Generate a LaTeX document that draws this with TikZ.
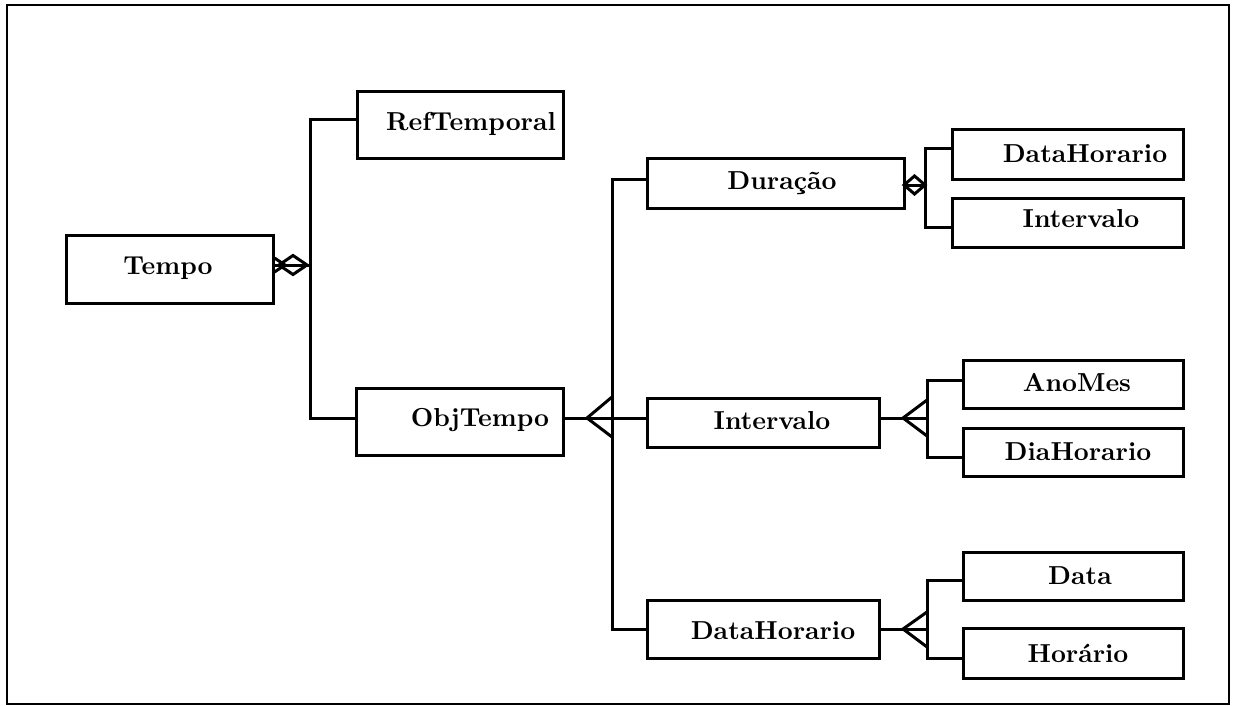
\documentclass[tikz,border=0pt]{standalone}
\begin{document}
\begin{tikzpicture}[x=0.4pt,y=-0.4pt,
  ent/.style={draw,line width=1.2pt,inner sep=0pt},
  lbl/.style={font=\bfseries\fontsize{10.4}{12}\selectfont,inner sep=0pt},
  con/.style={line width=1.2pt,line join=miter}]
\useasboundingbox (0,0) rectangle (1239,706);
\draw[line width=1pt] (7,5) rectangle (1229,704);
% boxes
\node[ent,minimum width=207*0.4pt,minimum height=68*0.4pt] (tempo) at (169.5,269) {};
\node[ent,minimum width=206*0.4pt,minimum height=67*0.4pt] (ref) at (460,125.5) {};
\node[ent,minimum width=207*0.4pt,minimum height=67*0.4pt] (obj) at (459.5,421.5) {};
\node[ent,minimum width=257*0.4pt,minimum height=49*0.4pt] (dur) at (775.5,183.5) {};
\node[ent,minimum width=231*0.4pt,minimum height=49*0.4pt] (dh1) at (1067.5,154.5) {};
\node[ent,minimum width=231*0.4pt,minimum height=49*0.4pt] (int1) at (1067.5,222.5) {};
\node[ent,minimum width=232*0.4pt,minimum height=49*0.4pt] (int2) at (763,422.5) {};
\node[ent,minimum width=220*0.4pt,minimum height=48*0.4pt] (ano) at (1073,384) {};
\node[ent,minimum width=220*0.4pt,minimum height=48*0.4pt] (dia) at (1073,452) {};
\node[ent,minimum width=232*0.4pt,minimum height=58*0.4pt] (dh2) at (763,629) {};
\node[ent,minimum width=220*0.4pt,minimum height=48*0.4pt] (data) at (1073,576) {};
\node[ent,minimum width=220*0.4pt,minimum height=50*0.4pt] (hor) at (1073,653) {};
% labels
\node[lbl] (tempoL) at (168,268) {Tempo};
\node[lbl] (refL) at (471,124) {RefTemporal};
\node[lbl] (objL) at (480,420) {ObjTempo};
\node[lbl] (durL) at (782,183) {Duração};
\node[lbl] (dh1L) at (1085,154) {DataHorario};
\node[lbl] (int1L) at (1081,219) {Intervalo};
\node[lbl] (int2L) at (772,421) {Intervalo};
\node[lbl] (anoL) at (1077,383) {AnoMes};
\node[lbl] (diaL) at (1078,452) {DiaHorario};
\node[lbl] (dh2L) at (773,631) {DataHorario};
\node[lbl] (dataL) at (1080,576) {Data};
\node[lbl] (horL) at (1078,653) {Horário};
% junction coordinates
\coordinate (a1) at (310,120);
\coordinate (a2) at (310,418);
\coordinate (a0) at (310,265);
\coordinate (b1) at (612,179);
\coordinate (b2) at (612,418);
\coordinate (b3) at (612,629);
\coordinate (c1) at (925,149);
\coordinate (c2) at (925,227);
\coordinate (c0) at (925,185);
\coordinate (d1) at (927,380);
\coordinate (d2) at (927,457);
\coordinate (d0) at (927,418);
\coordinate (e1) at (927,580);
\coordinate (e2) at (927,658);
\coordinate (e0) at (927,629);
% Tempo -> RefTemporal / ObjTempo
\draw[con] (ref.west |- a1) -- (a1) -- (a2) -- (obj.west |- a2);
\draw[con] (tempo.east |- a0) -- (a0);
\draw[con] (279,265) -- (293,255.5) -- (307,265) -- (293,274.5) -- cycle;
\draw[con] (tempo.east |- 0,258) -- (285,265) -- (tempo.east |- 0,272);
% ObjTempo -> Duracao / Intervalo / DataHorario
\draw[con] (dur.west |- b1) -- (b1) -- (b3) -- (dh2.west |- b3);
\draw[con] (obj.east |- b2) -- (int2.west |- b2);
\draw[con] (612,397) -- (587,418) -- (612,437);
% Duracao -> DataHorario / Intervalo
\draw[con] (dh1.west |- c1) -- (c1) -- (c2) -- (int1.west |- c2);
\draw[con] (dur.east |- c0) -- (c0);
\draw[con] (904,185) -- (914.5,176) -- (925,185) -- (914.5,194) -- cycle;
% Intervalo -> AnoMes / DiaHorario
\draw[con] (ano.west |- d1) -- (d1) -- (d2) -- (dia.west |- d2);
\draw[con] (int2.east |- d0) -- (d0);
\draw[con] (927,400) -- (903,418) -- (927,436);
% DataHorario -> Data / Horario
\draw[con] (data.west |- e1) -- (e1) -- (e2) -- (hor.west |- e2);
\draw[con] (dh2.east |- e0) -- (e0);
\draw[con] (927,612) -- (903,629) -- (927,647);
\end{tikzpicture}
\end{document}
